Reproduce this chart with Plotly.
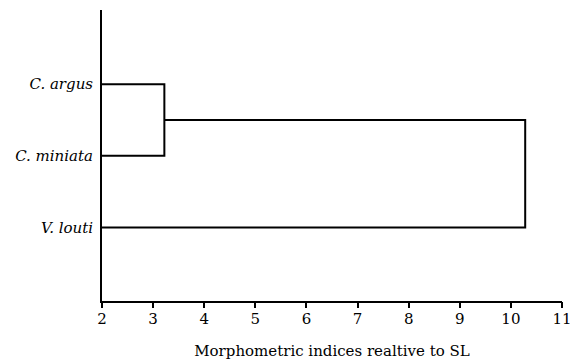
import plotly.graph_objects as go

# Leaves (top to bottom) and their vertical positions
species = ["C. argus", "C. miniata", "V. louti"]
leaf_pos = [3, 2, 1]

# Linkage: (left member, right member, merge distance)
merges = [
    ("C. argus", "C. miniata", 3.22),
    ("cluster1", "V. louti", 10.28),
]

x_ticks = [2, 3, 4, 5, 6, 7, 8, 9, 10, 11]
x_range = [2, 11]
base = 2

# Build dendrogram segments
node_y = {s: p for s, p in zip(species, leaf_pos)}
node_x = {s: base for s in species}
xs, ys = [], []
for i, (a, b, h) in enumerate(merges, start=1):
    ya, yb = node_y[a], node_y[b]
    xs += [node_x[a], h, h, node_x[b], None]
    ys += [ya, ya, yb, yb, None]
    name = f"cluster{i}"
    node_y[name] = (ya + yb) / 2
    node_x[name] = h

fig = go.Figure()
fig.add_trace(go.Scatter(
    x=xs, y=ys, mode="lines",
    line=dict(color="black", width=2),
    hoverinfo="skip", showlegend=False,
))

serif = "DejaVu Serif"
fig.update_layout(
    width=581, height=360,
    margin=dict(l=102, r=19, t=10, b=59),
    paper_bgcolor="white", plot_bgcolor="white",
    font=dict(family=serif, size=15, color="black"),
    # labels and title on the main x axis
    xaxis=dict(
        range=x_range, tickvals=x_ticks, ticks="",
        showline=True, linewidth=2, linecolor="black",
        showgrid=False, zeroline=False, automargin=False,
        ticklabelstandoff=3,
        title=dict(text="Morphometric indices realtive to SL",
                   font=dict(family=serif, size=15), standoff=19),
        tickfont=dict(family=serif, size=15),
    ),
    # tick marks only, on an overlaid axis
    xaxis2=dict(
        range=x_range, tickvals=x_ticks, overlaying="x", side="bottom",
        anchor="y", ticks="outside", ticklen=6, tickwidth=2,
        tickcolor="black", showticklabels=False, showline=False,
        showgrid=False, zeroline=False, automargin=False,
    ),
    yaxis=dict(
        range=[-0.026, 4.035], tickvals=leaf_pos,
        ticktext=[f"<i>{s}</i>" for s in species],
        ticks="", showline=True, linewidth=2, linecolor="black",
        showgrid=False, zeroline=False, automargin=False,
        ticklabelstandoff=4,
        tickfont=dict(family=serif, size=15),
    ),
)
# invisible trace so the tick-mark axis is drawn
fig.add_trace(go.Scatter(x=[x_range[0]], y=[leaf_pos[0]], xaxis="x2",
                         mode="markers", marker=dict(opacity=0),
                         hoverinfo="skip", showlegend=False))

fig.write_html("out.html")
